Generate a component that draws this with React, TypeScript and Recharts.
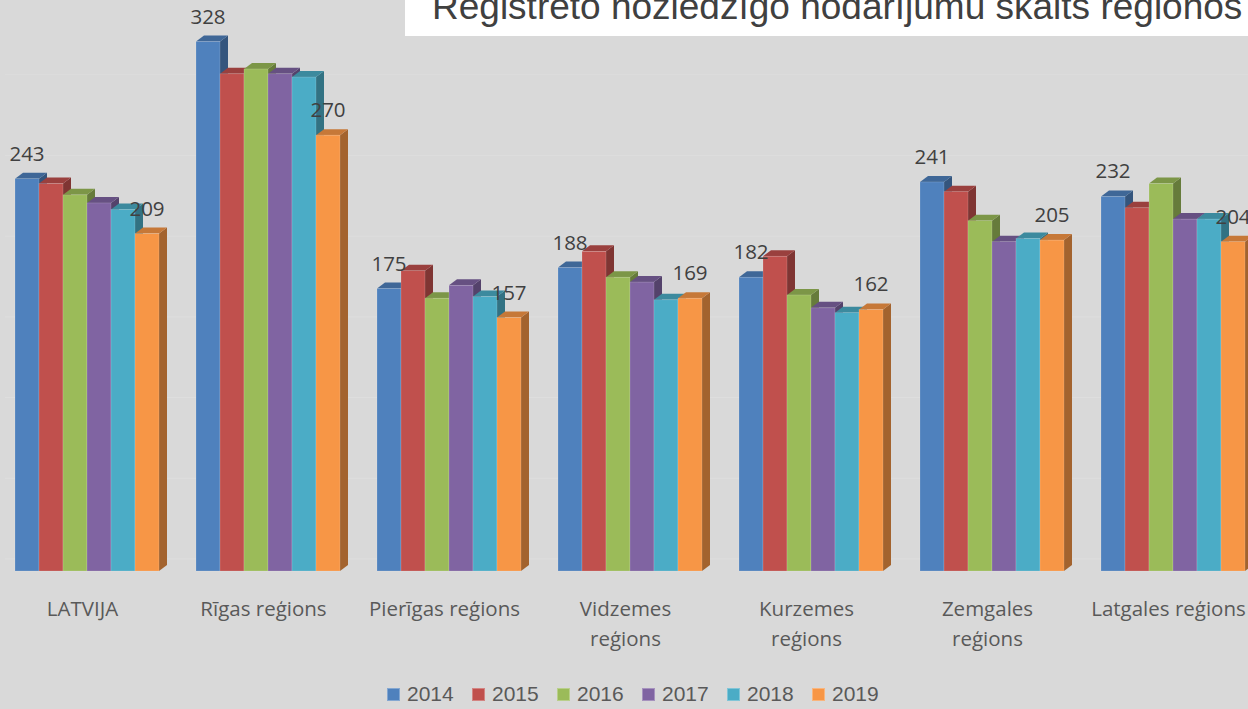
import React from 'react';
import { BarChart, Bar, XAxis, YAxis, CartesianGrid, Legend, LabelList } from 'recharts';

const categories = [
  'LATVIJA',
  'Rīgas reģions',
  'Pierīgas reģions',
  'Vidzemes reģions',
  'Kurzemes reģions',
  'Zemgales reģions',
  'Latgales reģions',
];
const wrappedCategories = ['Vidzemes reģions', 'Kurzemes reģions', 'Zemgales reģions'];

const years = ['2014', '2015', '2016', '2017', '2018', '2019'];
const v2014 = [243, 328, 175, 188, 182, 241, 232];
const v2015 = [240, 308, 186, 198, 195, 235, 225];
const v2016 = [233, 311, 169, 182, 171, 217, 240];
const v2017 = [228, 308, 177, 179, 163, 204, 218];
const v2018 = [224, 306, 170, 168, 160, 206, 218];
const v2019 = [209, 270, 157, 169, 162, 205, 204];
const labelledYears = ['2014', '2019'];

const colors = ['#4f81bd', '#c0504d', '#9bbb59', '#8064a2', '#4bacc6', '#f79646'];
const yTicks = [0, 50, 100, 150, 200, 250, 300, 350];
const titleText = 'Reģistrēto noziedzīgo nodarījumu skaits reģionos';

const seriesValues = [v2014, v2015, v2016, v2017, v2018, v2019];
const data = categories.map((c, i) => {
  const row: Record<string, any> = { category: c };
  years.forEach((y, k) => {
    row['y' + y] = seriesValues[k][i];
  });
  return row;
});

const FONT_LABEL = '"Open Sans", "DejaVu Sans", sans-serif';
const FONT_ARIAL = '"Liberation Sans", Arial, sans-serif';
const DX = 8;
const DY = 6;

function shade(hex: string, f: number) {
  const n = parseInt(hex.slice(1), 16);
  const r = Math.round(((n >> 16) & 255) * f);
  const g = Math.round(((n >> 8) & 255) * f);
  const b = Math.round((n & 255) * f);
  return `rgb(${r},${g},${b})`;
}

const makeShape = (color: string) => (props: any) => {
  const { x, y, width, height } = props;
  if (width == null || height == null) return <g />;
  const top = shade(color, 0.8);
  const side = shade(color, 0.66);
  return (
    <g>
      <polygon
        points={`${x + width},${y} ${x + width + DX},${y - DY} ${x + width + DX},${y + height - DY} ${x + width},${y + height}`}
        fill={side}
      />
      <polygon
        points={`${x},${y} ${x + DX},${y - DY} ${x + width + DX},${y - DY} ${x + width},${y}`}
        fill={top}
      />
      <rect x={x} y={y} width={width} height={height} fill={color} stroke="rgba(255,255,255,0.25)" strokeWidth={0.6} />
    </g>
  );
};

const renderValueLabel = (props: any) => {
  const { x, y, width, value } = props;
  return (
    <text
      x={x + width / 2}
      y={y - 18}
      textAnchor="middle"
      fontFamily={FONT_LABEL}
      fontSize={20.5}
      fill="#404040"
    >
      {value}
    </text>
  );
};

const CategoryTick = (props: any) => {
  const { x, y, payload } = props;
  const label: string = payload.value;
  const wrap = wrappedCategories.includes(label);
  const lines = wrap ? label.split(' ') : [label];
  return (
    <text
      x={x - 5}
      y={y}
      textAnchor="middle"
      fontFamily={FONT_LABEL}
      fontSize={20.5}
      fill="#595959"
    >
      {lines.map((ln, i) => (
        <tspan key={i} x={x - 5} dy={i === 0 ? 37 : 30}>
          {ln}
        </tspan>
      ))}
    </text>
  );
};

const LegendContent = () => (
  <div style={{ display: 'flex', height: 30, alignItems: 'center', paddingLeft: 390 }}>
    {years.map((yr, i) => (
      <div key={yr} style={{ display: 'flex', alignItems: 'center', width: 85 }}>
        <div
          style={{
            width: 13,
            height: 13,
            background: colors[i],
            boxSizing: 'border-box',
            border: '1px solid rgba(255,255,255,0.3)',
            marginRight: 7,
          }}
        />
        <span style={{ fontFamily: FONT_ARIAL, fontSize: 21, color: '#595959', lineHeight: '20px' }}>{yr}</span>
      </div>
    ))}
  </div>
);

const GridLine = (props: any) => {
  const { x1, x2, y1, y2 } = props;
  return <line x1={x1 + DX} x2={x2} y1={y1 - 12} y2={y2 - 12} stroke="#dedede" strokeWidth={1} />;
};

export default function App() {
  return (
    <div
      style={{
        position: 'fixed',
        left: 0,
        top: 0,
        width: 1248,
        height: 709,
        background: '#d9d9d9',
        overflow: 'hidden',
      }}
    >
      <div style={{ position: 'absolute', left: -3, top: 0 }}>
        <BarChart
          width={1267}
          height={709}
          data={data}
          margin={{ top: 6, right: 0, left: 0, bottom: 0 }}
          barCategoryGap={18}
          barGap={0}
        >
          <CartesianGrid vertical={false} horizontal={GridLine as any} stroke="#dedede" />
          <XAxis
            dataKey="category"
            axisLine={false}
            tickLine={false}
            interval={0}
            height={108}
            tick={CategoryTick}
          />
          <YAxis hide domain={[0, 350]} ticks={yTicks} />
          <Legend verticalAlign="bottom" content={LegendContent} wrapperStyle={{ height: 30 }} />
          {years.map((yr, i) => (
            <Bar
              key={yr}
              dataKey={'y' + yr}
              name={yr}
              fill={colors[i]}
              isAnimationActive={false}
              shape={makeShape(colors[i])}
            >
              {labelledYears.includes(yr) ? (
                <LabelList dataKey={'y' + yr} content={renderValueLabel} />
              ) : null}
            </Bar>
          ))}
        </BarChart>
      </div>
      <div
        style={{
          position: 'absolute',
          left: 405,
          top: 0,
          width: 843,
          height: 36,
          background: '#ffffff',
          overflow: 'hidden',
        }}
      >
        <span
          style={{
            position: 'absolute',
            left: 27,
            top: -12,
            whiteSpace: 'nowrap',
            fontFamily: FONT_ARIAL,
            fontSize: 37,
            lineHeight: 1,
            color: '#404040',
          }}
        >
          {titleText}
        </span>
      </div>
    </div>
  );
}
